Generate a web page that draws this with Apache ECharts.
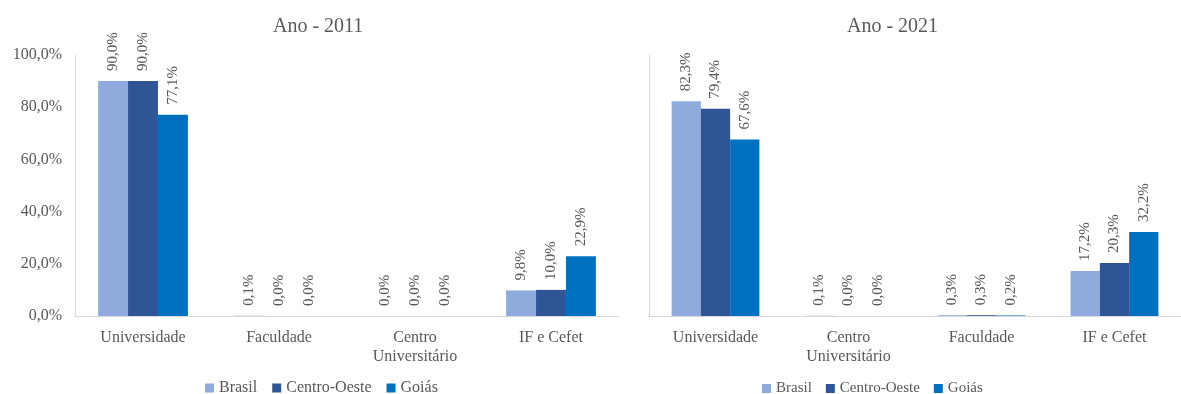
<!DOCTYPE html>
<html>
<head>
<meta charset="utf-8">
<script src="https://cdn.jsdelivr.net/npm/echarts@6/dist/echarts.min.js"></script>
<style>
  html, body { margin: 0; padding: 0; background: #ffffff; }
  #chart { width: 1181px; height: 394px; }
</style>
</head>
<body>
<div id="chart"></div>
<script>
// Share of enrolments by type of institution, 2011 and 2021
const seriesNames = ['Brasil', 'Centro-Oeste', 'Goiás'];
const seriesColors = ['#8FAADC', '#2F5597', '#0070C0'];

const categories2011 = ['Universidade', 'Faculdade', 'Centro\nUniversitário', 'IF e Cefet'];
const brasil2011 = [90.0, 0.1, 0.0, 9.8];
const centroOeste2011 = [90.0, 0.0, 0.0, 10.0];
const goias2011 = [77.1, 0.0, 0.0, 22.9];

const categories2021 = ['Universidade', 'Centro\nUniversitário', 'Faculdade', 'IF e Cefet'];
const brasil2021 = [82.3, 0.1, 0.3, 17.2];
const centroOeste2021 = [79.4, 0.0, 0.3, 20.3];
const goias2021 = [67.6, 0.0, 0.2, 32.2];

const yTicks = [0, 20, 40, 60, 80, 100];

const TEXT = '#595959';
const FONT = '"Liberation Serif", "Times New Roman", serif';
const pct = v => Number(v).toFixed(1).replace('.', ',') + '%';

function barSeries(name, color, data, idx) {
  return {
    name: name,
    type: 'bar',
    xAxisIndex: idx,
    yAxisIndex: idx,
    data: data,
    barGap: '0%',
    barCategoryGap: '34%',
    itemStyle: { color: color },
    label: {
      show: true,
      position: 'top',
      rotate: 90,
      align: 'left',
      verticalAlign: 'middle',
      distance: 10,
      color: TEXT,
      fontFamily: FONT,
      fontSize: 15,
      formatter: p => pct(p.value)
    }
  };
}

function xAxis(cats, idx) {
  return {
    type: 'category',
    gridIndex: idx,
    data: cats,
    axisTick: { show: false },
    axisLine: { lineStyle: { color: '#d9d9d9', width: 1 } },
    axisLabel: {
      color: TEXT, fontFamily: FONT, fontSize: 16, margin: 12,
      lineHeight: 19, interval: 0
    }
  };
}

function yAxis(idx, showLabels) {
  return {
    type: 'value',
    gridIndex: idx,
    min: yTicks[0],
    max: yTicks[yTicks.length - 1],
    interval: yTicks[1] - yTicks[0],
    splitLine: { show: false },
    axisTick: { show: false },
    axisLine: { show: true, lineStyle: { color: '#d9d9d9', width: 1 } },
    axisLabel: {
      show: showLabels, color: TEXT, fontFamily: FONT, fontSize: 16, margin: 13,
      formatter: v => pct(v)
    }
  };
}

function legend(left, top, size, gap) {
  return {
    data: seriesNames, left: left, top: top, padding: 0,
    itemWidth: 9, itemHeight: 9, itemGap: gap, icon: 'rect',
    textStyle: { color: TEXT, fontFamily: FONT, fontSize: size, fontWeight: 'normal' }
  };
}

const chart = echarts.init(document.getElementById('chart'), null, { renderer: 'canvas' });
chart.setOption({
  animation: false,
  backgroundColor: '#ffffff',
  color: seriesColors,
  textStyle: { fontFamily: FONT, color: TEXT },
  title: [
    { text: 'Ano - 2011', left: 273, top: 17, padding: 0,
      textStyle: { color: TEXT, fontFamily: FONT, fontSize: 20, fontWeight: 'normal' } },
    { text: 'Ano - 2021', left: 847, top: 17, padding: 0,
      textStyle: { color: TEXT, fontFamily: FONT, fontSize: 20, fontWeight: 'normal' } }
  ],
  legend: [legend(205, 380, 16, 15), legend(762, 381, 15, 14)],
  grid: [
    { left: 75, top: 55, width: 544, height: 261 },
    { left: 649, top: 55, width: 544, height: 261 }
  ],
  xAxis: [xAxis(categories2011, 0), xAxis(categories2021, 1)],
  yAxis: [yAxis(0, true), yAxis(1, false)],
  series: [
    barSeries(seriesNames[0], seriesColors[0], brasil2011, 0),
    barSeries(seriesNames[1], seriesColors[1], centroOeste2011, 0),
    barSeries(seriesNames[2], seriesColors[2], goias2011, 0),
    barSeries(seriesNames[0], seriesColors[0], brasil2021, 1),
    barSeries(seriesNames[1], seriesColors[1], centroOeste2021, 1),
    barSeries(seriesNames[2], seriesColors[2], goias2021, 1)
  ]
});
</script>
</body>
</html>
